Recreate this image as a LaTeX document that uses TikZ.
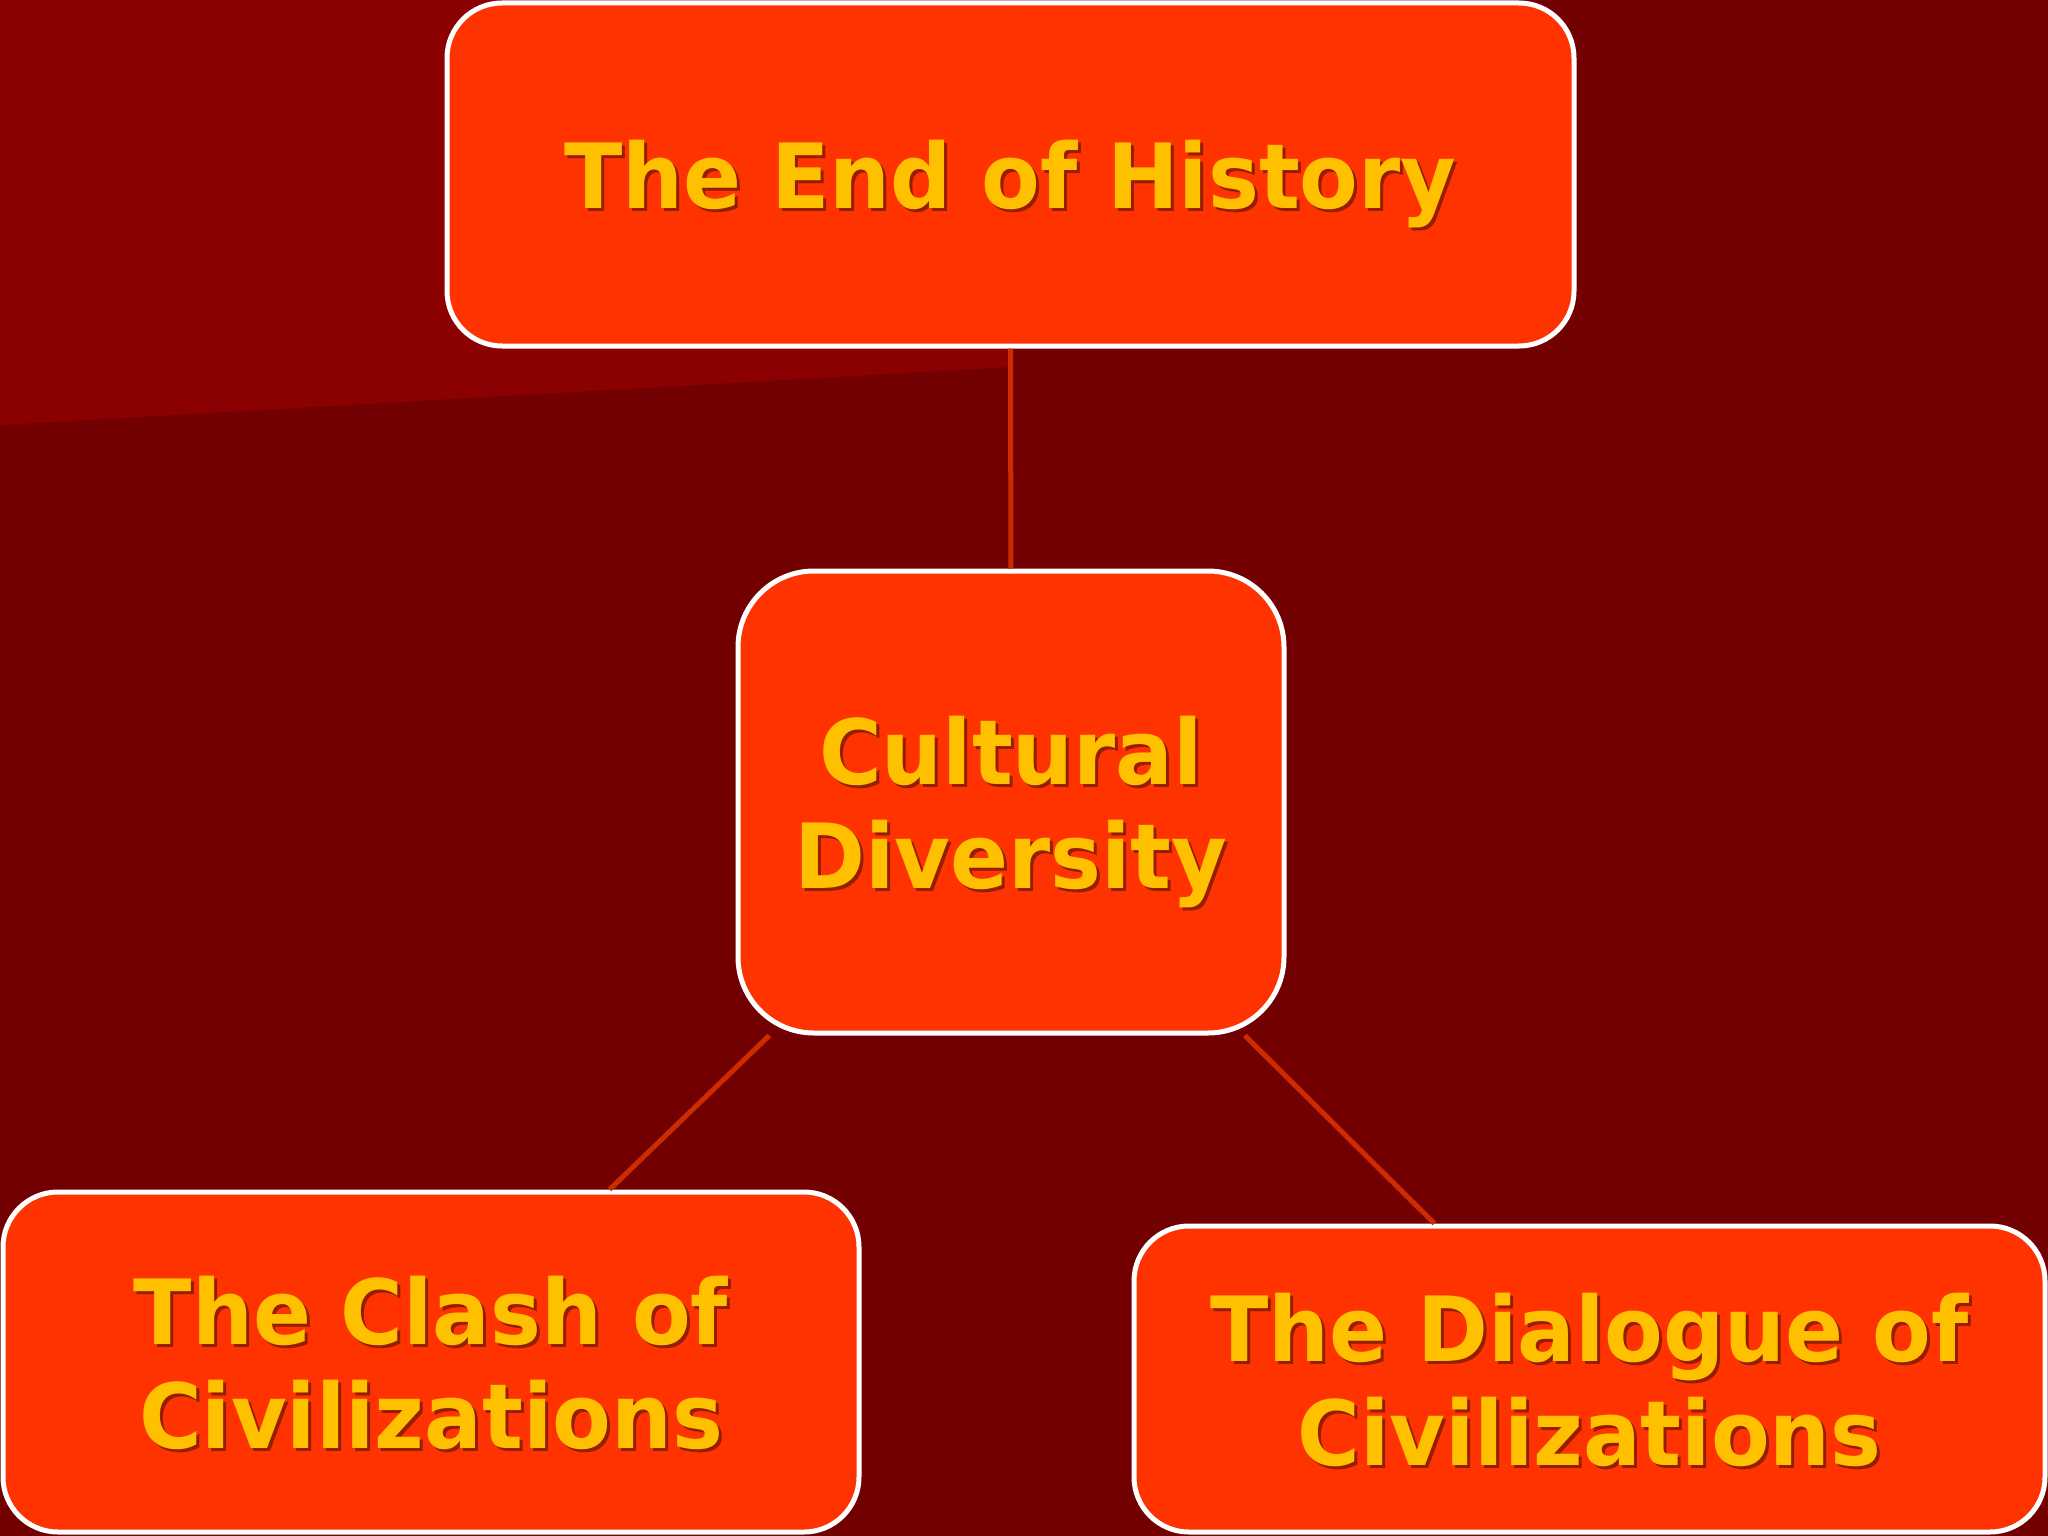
\documentclass[tikz,border=0pt]{standalone}
\usepackage{fontspec}
\setmainfont{DejaVu Sans}
\newfontfamily\boxfont{DejaVu Sans}[FakeStretch=0.95]
\definecolor{bgdark}{HTML}{720000}
\definecolor{bglight}{HTML}{8B0000}
\definecolor{boxfill}{HTML}{FF3300}
\definecolor{gold}{HTML}{FFC000}
\definecolor{txtshadow}{HTML}{951E00}
\definecolor{linkcol}{HTML}{CC2C00}
\newcommand{\shline}[1]{\rlap{\hspace{3pt}\raisebox{-3pt}{\textcolor{txtshadow}{#1}}}\textcolor{gold}{#1}}
\tikzset{
  topic/.style={draw=white, line width=5pt, fill=boxfill, rounded corners=55pt,
    inner sep=0pt, align=center, text=gold, text depth=0pt,
    font=\boxfont\bfseries\fontsize{90}{104}\selectfont},
  link/.style={draw=linkcol, line width=5pt}
}
\begin{document}
\begin{tikzpicture}[x=1pt,y=-1pt]
\useasboundingbox (0,0) rectangle (2048,1536);
\fill[bgdark] (0,0) rectangle (2048,1536);
\fill[bglight] (0,0) -- (1010,0) -- (1010,367) -- (0,425) -- cycle;
\node[topic, minimum width=1127pt, minimum height=343pt] (top) at (1010.5,174.5) {\shline{The End of History}};
\node[topic, rounded corners=76pt, minimum width=546pt, minimum height=462pt] (mid) at (1011,802) {\shline{Cultural}\\\shline{Diversity}};
\node[topic, minimum width=856pt, minimum height=340pt] (clash) at (431,1362) {\shline{The Clash of}\\\shline{Civilizations}};
\node[topic, minimum width=911pt, minimum height=306pt] (dial) at (1589.5,1379) {\shline{The Dialogue of}\\\shline{Civilizations}};
\draw[link] (top) -- (mid);
\draw[link] (mid) -- (clash);
\draw[link] (mid) -- (dial);
\end{tikzpicture}
\end{document}
